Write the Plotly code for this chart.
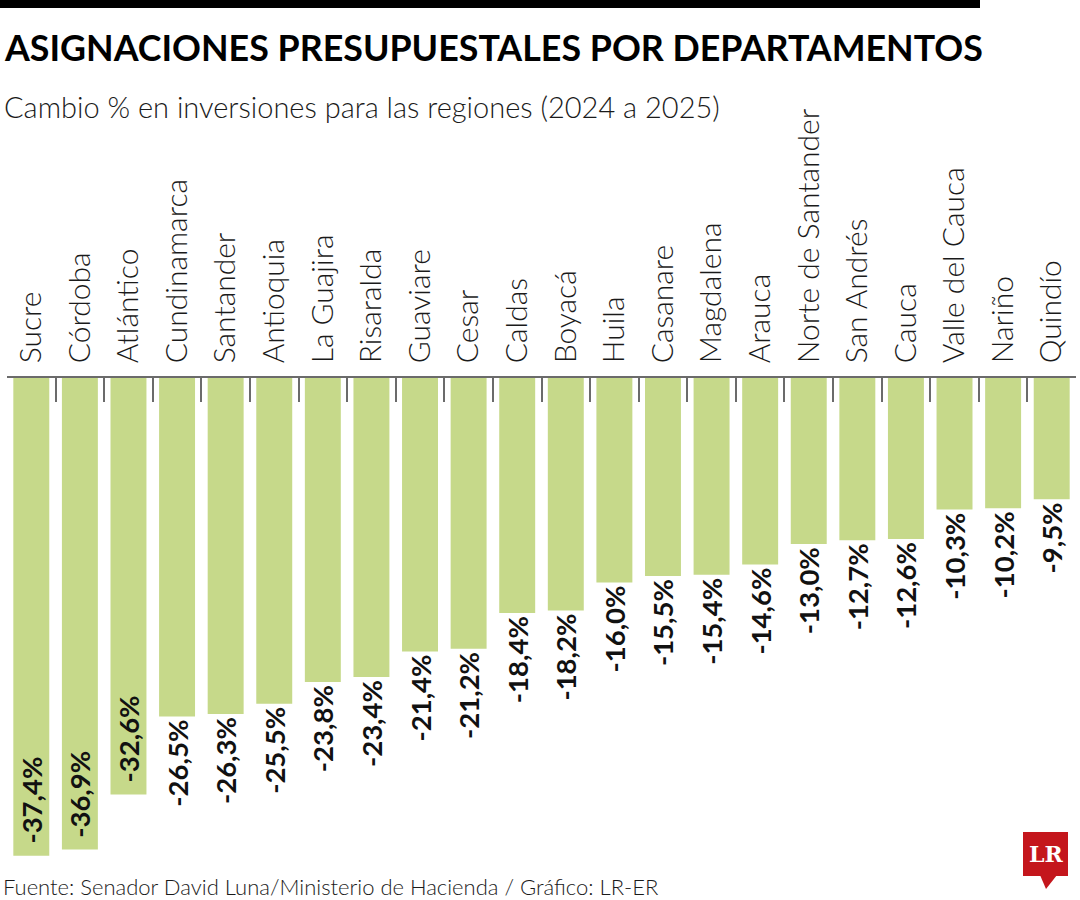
import plotly.graph_objects as go

categories = ["Sucre", "Córdoba", "Atlántico", "Cundinamarca", "Santander", "Antioquia",
              "La Guajira", "Risaralda", "Guaviare", "Cesar", "Caldas", "Boyacá", "Huila",
              "Casanare", "Magdalena", "Arauca", "Norte de Santander", "San Andrés", "Cauca",
              "Valle del Cauca", "Nariño", "Quindío"]
values = [-37.4, -36.9, -32.6, -26.5, -26.3, -25.5, -23.8, -23.4, -21.4, -21.2, -18.4,
          -18.2, -16.0, -15.5, -15.4, -14.6, -13.0, -12.7, -12.6, -10.3, -10.2, -9.5]
inside_count = 3

title_text = "ASIGNACIONES PRESUPUESTALES POR DEPARTAMENTOS"
subtitle_text = "Cambio % en inversiones para las regiones (2024 a 2025)"
source_text = "Fuente: Senador David Luna/Ministerio de Hacienda / Gráfico: LR-ER"

W, H = 1080, 900
ML, MR, MT, MB = 7, 4, 378, 11
PW, PH = W - ML - MR, H - MT - MB


def px(x):
    return (x - ML) / PW


def py(y):
    return 1 - (y - MT) / PH


labels = [f"{v:.1f}".replace(".", ",") + "%" for v in values]
bar_text = ["" if i < inside_count else t for i, t in enumerate(labels)]

vfont = dict(family="Lato", size=27.5, color="#111111", weight=700)
fig = go.Figure(go.Bar(
    x=categories, y=values,
    marker=dict(color="#c6d98a", line=dict(width=0)),
    text=bar_text, textposition="outside", textangle=-90,
    constraintext="none",
    textfont=vfont, outsidetextfont=vfont,
    cliponaxis=False,
    hoverinfo="skip",
))

fig.update_layout(
    width=W, height=H,
    margin=dict(l=ML, r=MR, t=MT, b=MB, pad=0),
    paper_bgcolor="white", plot_bgcolor="white",
    bargap=0.26, showlegend=False,
    xaxis=dict(side="top", tickangle=-90, showline=True, linecolor="#6b6b6b", linewidth=1.5,
               ticks="inside", tickson="boundaries", ticklen=24, tickcolor="#6b6b6b", tickwidth=1.5,
               ticklabelstandoff=7,
               tickfont=dict(family="Lato", size=30, color="#1a1a1a", weight=300),
               showgrid=False, zeroline=False, fixedrange=True),
    yaxis=dict(range=[-40, 0], visible=False, showgrid=False, zeroline=False, fixedrange=True),
)

shapes = [
    dict(type="rect", xref="paper", yref="paper", x0=px(0), x1=px(980), y0=py(0), y1=py(8),
         fillcolor="black", line=dict(width=0), layer="above"),
    dict(type="rect", xref="paper", yref="paper", x0=px(1023), x1=px(1068), y0=py(832), y1=py(876),
         fillcolor="#c4161c", line=dict(width=0), layer="above"),
    dict(type="path", xref="paper", yref="paper",
         path=f"M {px(1040)},{py(875)} L {px(1057)},{py(875)} L {px(1046)},{py(889)} Z",
         fillcolor="#c4161c", line=dict(width=0), layer="above"),
]

annotations = [
    dict(text=title_text, xref="paper", yref="paper", x=px(2), y=py(47), xanchor="left", yanchor="middle",
         showarrow=False, font=dict(family="Lato", size=35.8, color="black", weight=700)),
    dict(text=subtitle_text, xref="paper", yref="paper", x=px(2), y=py(106), xanchor="left", yanchor="middle",
         showarrow=False, font=dict(family="Lato", size=29, color="#1a1a1a", weight=300)),
    dict(text=source_text, xref="paper", yref="paper", x=px(1), y=py(886), xanchor="left", yanchor="middle",
         showarrow=False, font=dict(family="Lato", size=22, color="#1a1a1a", weight=300)),
    dict(text="<b>LR</b>", xref="paper", yref="paper", x=px(1045.5), y=py(854), xanchor="center", yanchor="middle",
         showarrow=False, font=dict(family="DejaVu Serif", size=22, color="white")),
]

for i in range(inside_count):
    annotations.append(dict(text=labels[i], x=categories[i], y=values[i], xref="x", yref="y",
                            xanchor="center", yanchor="bottom", yshift=10, textangle=-90,
                            showarrow=False, font=vfont))

fig.update_layout(shapes=shapes, annotations=annotations)
fig.write_html("out.html", config={"displayModeBar": False},
               post_script="document.body.style.margin='0';")
